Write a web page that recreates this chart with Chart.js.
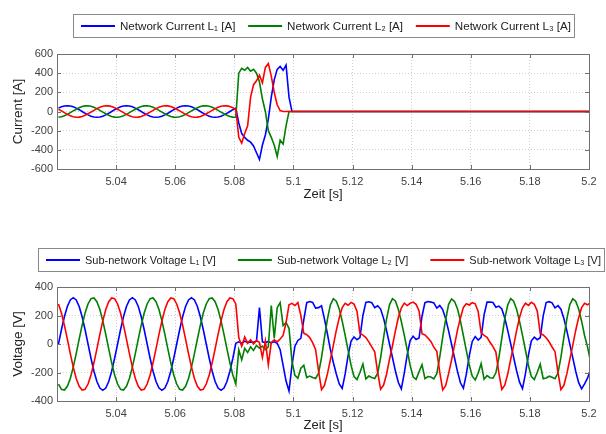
<!DOCTYPE html>
<html>
<head>
<meta charset="utf-8">
<script src="https://cdn.jsdelivr.net/npm/chart.js@4"></script>
<style>
  html, body { margin: 0; padding: 0; background: #fff; }
  canvas { display: block; }
</style>
</head>
<body>
<canvas id="currentChart" width="606" height="217"></canvas>
<canvas id="voltageChart" width="606" height="217"></canvas>
<script>
// sampling of the recorded signals (1 ms grid)
const sampleStart = 5.0205;
const sampleStep = 0.001;

const xTicks = [5.04, 5.06, 5.08, 5.1, 5.12, 5.14, 5.16, 5.18, 5.2];
const currentTicks = [-600, -400, -200, 0, 200, 400, 600];
const voltageTicks = [-400, -200, 0, 200, 400];

const currentNames = ["Network Current L₁ [A]", "Network Current L₂ [A]", "Network Current L₃ [A]"];
const voltageNames = ["Sub-network Voltage L₁ [V]", "Sub-network Voltage L₂ [V]", "Sub-network Voltage L₃ [V]"];

// network currents [A]
const iL1 = [
  35,49,57,60,57,49,35,19,0,-19,-35,-49,-57,-60,-57,-49,-35,-19,0,19,
  35,49,57,60,57,49,35,19,0,-19,-35,-49,-57,-60,-57,-49,-35,-19,0,19,
  35,49,57,60,57,49,35,19,0,-19,-35,-49,-57,-60,-57,-49,-35,-19,0,19,
  35,
  -120,-230,-270,-300,-320,-360,-430,-500,-350,-245,-80,150,330,440,470,430,485,150,0,
  0,0,0,0,0,0,0,0,0,0,0,0,0,0,0,0,0,0,0,0,
  0,0,0,0,0,0,0,0,0,0,0,0,0,0,0,0,0,0,0,0,
  0,0,0,0,0,0,0,0,0,0,0,0,0,0,0,0,0,0,0,0,
  0,0,0,0,0,0,0,0,0,0,0,0,0,0,0,0,0,0,0,0,
  0,0,0,0,0,0,0,0,0,0,0,0,0,0,0,0,0,0,0,0,
  0
];
const iL2 = [
  -60,-55,-45,-30,-12,6,24,40,52,59,60,55,45,30,12,-6,-24,-40,-52,-59,
  -60,-55,-45,-30,-12,6,24,40,52,59,60,55,45,30,12,-6,-24,-40,-52,-59,
  -60,-55,-45,-30,-12,6,24,40,52,59,60,55,45,30,12,-6,-24,-40,-52,-59,
  -60,
  400,450,430,460,420,440,400,310,130,0,-200,-270,-350,-470,-300,-340,-150,0,0,
  0,0,0,0,0,0,0,0,0,0,0,0,0,0,0,0,0,0,0,0,
  0,0,0,0,0,0,0,0,0,0,0,0,0,0,0,0,0,0,0,0,
  0,0,0,0,0,0,0,0,0,0,0,0,0,0,0,0,0,0,0,0,
  0,0,0,0,0,0,0,0,0,0,0,0,0,0,0,0,0,0,0,0,
  0,0,0,0,0,0,0,0,0,0,0,0,0,0,0,0,0,0,0,0,
  0
];
const iL3 = [
  24,6,-12,-30,-45,-55,-60,-59,-52,-40,-24,-6,12,30,45,55,60,59,52,40,
  24,6,-12,-30,-45,-55,-60,-59,-52,-40,-24,-6,12,30,45,55,60,59,52,40,
  24,6,-12,-30,-45,-55,-60,-59,-52,-40,-24,-6,12,30,45,55,60,59,52,40,
  24,
  -270,-330,-230,-150,150,280,320,380,300,460,500,370,200,70,10,0,0,0,0,
  0,0,0,0,0,0,0,0,0,0,0,0,0,0,0,0,0,0,0,0,
  0,0,0,0,0,0,0,0,0,0,0,0,0,0,0,0,0,0,0,0,
  0,0,0,0,0,0,0,0,0,0,0,0,0,0,0,0,0,0,0,0,
  0,0,0,0,0,0,0,0,0,0,0,0,0,0,0,0,0,0,0,0,
  0,0,0,0,0,0,0,0,0,0,0,0,0,0,0,0,0,0,0,0,
  0
];

// sub-network voltages [V]
const uL1 = [
  0,100,191,263,309,325,309,263,191,100,0,-100,-191,-263,-309,-325,-309,-263,-191,-100,
  0,100,191,263,309,325,309,263,191,100,0,-100,-191,-263,-309,-325,-309,-263,-191,-100,
  0,100,191,263,309,325,309,263,191,100,0,-100,-191,-263,-309,-325,-309,-263,-191,-100,
  5,
  15,5,20,10,15,12,20,255,15,10,18,8,15,5,-40,-150,-260,-330,-150,
  -15,25,40,170,290,298,292,252,255,268,175,70,-40,-130,-210,-280,
  -312,-210,-80,20,50,30,45,200,292,296,290,255,268,245,180,95,0,-95,-190,-270,
  -315,-205,-75,25,55,32,42,195,290,298,294,288,252,270,242,178,92,-2,-98,-192,-272,
  -310,-212,-82,18,52,28,46,205,294,295,291,258,266,246,182,96,2,-94,-188,-268,
  -314,-208,-78,22,48,30,44,198,291,297,289,254,269,244,179,94,-1,-96,-191,-271,
  -315,-280,-240,-180
];
const uL2 = [
  -281,-318,-323,-297,-242,-162,-68,34,132,217,281,318,323,297,242,162,68,-34,-132,-217,
  -281,-318,-323,-297,-242,-162,-68,34,132,217,281,318,323,297,242,162,68,-34,-132,-217,
  -281,-318,-323,-297,-242,-162,-68,34,132,217,281,318,323,297,242,162,68,-34,-132,-217,
  -281,
  -40,-110,-30,-60,-20,-45,-10,-30,-15,-40,-20,270,40,255,290,130,150,110,-120,
  -220,-240,-170,-150,-235,-225,-235,-242,-205,-95,45,175,275,
  318,
  300,245,160,60,-45,-150,-228,-250,-200,-140,-245,-225,-235,-242,-205,-95,45,175,275,318,
  302,242,158,62,-42,-152,-230,-248,-195,-145,-243,-228,-232,-245,-208,-92,48,172,278,316,
  298,247,162,58,-47,-148,-226,-252,-205,-138,-247,-222,-237,-240,-202,-97,42,177,273,319,
  301,244,159,61,-44,-151,-229,-249,-198,-142,-244,-238,-226,-234,-243,-204,-94,46,174,276,317,
  300,245,160,60,-20,-120
];
const uL3 = [
  281,217,132,34,-68,-162,-242,-297,-323,-318,-281,-217,-132,-34,68,162,242,297,323,318,
  281,217,132,34,-68,-162,-242,-297,-323,-318,-281,-217,-132,-34,68,162,242,297,323,318,
  281,217,132,34,-68,-162,-242,-297,-323,-318,-281,-217,-132,-34,68,162,242,297,323,318,
  281,
  45,-15,50,5,30,0,25,10,-95,20,-145,10,30,15,35,60,150,275,285,270,290,200,75,65,45,10,-40,-190,
  -320,-290,-210,-110,-10,95,185,255,285,272,292,280,230,75,62,45,15,-20,-55,-200,
  -318,-288,-212,-108,-12,92,188,252,287,270,286,294,278,232,72,64,42,18,-22,-52,-198,
  -322,-292,-208,-112,-8,97,183,257,283,274,290,282,228,78,60,47,12,-18,-57,-202,
  -319,-289,-211,-109,-11,94,186,254,286,271,293,279,231,74,63,44,16,-21,-54,-199,
  -320,-290,-210,-110,-10,95,185,255,285,275,290
];

const sampleTimes = uL1.map((v, i) => +(sampleStart + i * sampleStep).toFixed(4));

const phaseColors = ["#0000ff", "#008000", "#ff0000"];
const FONT = '"Liberation Sans", Arial, Helvetica, sans-serif';
Chart.defaults.font.family = FONT;
Chart.defaults.color = "#333";

// boxed legend above each plot, like the matlab figure
const framedLegend = {
  id: "framedLegend",
  afterDraw(chart, args, opts) {
    const ctx = chart.ctx;
    const b = opts.box;
    ctx.save();
    ctx.fillStyle = "#fff";
    ctx.fillRect(b.left, b.top, b.right - b.left, b.bottom - b.top);
    ctx.strokeStyle = "#8a8a8a";
    ctx.lineWidth = 1;
    ctx.strokeRect(b.left + 0.5, b.top + 0.5, b.right - b.left - 1, b.bottom - b.top - 1);
    ctx.font = opts.fontSize + "px " + FONT;
    ctx.textBaseline = "middle";
    const sets = chart.data.datasets;
    const widths = sets.map((ds) => ctx.measureText(ds.label).width);
    const lineLen = 34, gap = 5, padL = 8, padR = 4;
    const used = widths.reduce((a, w) => a + w + lineLen + gap, 0);
    const spacing = (b.right - b.left - padL - padR - used) / (sets.length - 1);
    const y = (b.top + b.bottom) / 2;
    let x = b.left + padL;
    sets.forEach((ds, i) => {
      ctx.strokeStyle = ds.borderColor;
      ctx.lineWidth = 2;
      ctx.beginPath();
      ctx.moveTo(x, y);
      ctx.lineTo(x + lineLen, y);
      ctx.stroke();
      ctx.fillStyle = "#222";
      ctx.fillText(ds.label, x + lineLen + gap, y + 0.5);
      x += lineLen + gap + widths[i] + spacing;
    });
    ctx.restore();
  },
};

// box round the plot area with small inward ticks
const plotFrame = {
  id: "plotFrame",
  afterDatasetsDraw(chart) {
    const { ctx, chartArea: a, scales } = chart;
    ctx.save();
    ctx.strokeStyle = "#707070";
    ctx.lineWidth = 1;
    ctx.beginPath();
    scales.x.ticks.forEach((t) => {
      const px = Math.round(scales.x.getPixelForValue(t.value)) + 0.5;
      ctx.moveTo(px, a.top); ctx.lineTo(px, a.top + 4);
      ctx.moveTo(px, a.bottom); ctx.lineTo(px, a.bottom - 4);
    });
    scales.y.ticks.forEach((t) => {
      const py = Math.round(scales.y.getPixelForValue(t.value)) + 0.5;
      ctx.moveTo(a.left, py); ctx.lineTo(a.left + 4, py);
      ctx.moveTo(a.right, py); ctx.lineTo(a.right - 4, py);
    });
    ctx.stroke();
    ctx.strokeRect(Math.round(a.left) + 0.5, Math.round(a.top) + 0.5, Math.round(a.width), Math.round(a.height));
    ctx.restore();
  },
};

function buildChart(id, series, names, yTicks, yTitle, geom) {
  const el = document.getElementById(id);
  if (!el) return;
  return new Chart(el, {
    type: "line",
    data: {
      labels: sampleTimes,
      datasets: series.map((vals, k) => ({
        label: names[k],
        data: vals,
        borderColor: phaseColors[k],
        borderWidth: 1.6,
        pointRadius: 0,
        order: 3 - k,
      })),
    },
    options: {
      responsive: false,
      animation: false,
      events: [],
      layout: { padding: { top: geom.top, right: 17, left: 0, bottom: 0 } },
      plugins: {
        legend: { display: false },
        tooltip: { enabled: false },
        framedLegend: { box: geom.legend, fontSize: geom.legendFont },
      },
      scales: {
        x: {
          type: "linear",
          min: 5.02,
          max: 5.2,
          afterBuildTicks: (s) => { s.ticks = xTicks.map((v) => ({ value: v })); },
          afterFit: (s) => { s.height = geom.xHeight; },
          ticks: { padding: 6, color: "#404040", font: { size: 11 }, maxRotation: 0, autoSkip: false, callback: (v) => String(v) },
          grid: { color: "#cfcfcf", drawTicks: false },
          border: { display: false, dash: [1, 2] },
          title: { display: true, text: "Zeit [s]", color: "#222", font: { size: 13 }, padding: { top: 0, bottom: geom.titlePad } },
        },
        y: {
          min: yTicks[0],
          max: yTicks[yTicks.length - 1],
          afterBuildTicks: (s) => { s.ticks = yTicks.map((v) => ({ value: v })); },
          afterFit: (s) => { s.width = 57; },
          ticks: { padding: 4, color: "#404040", font: { size: 11 }, callback: (v) => String(v) },
          grid: { color: "#cfcfcf", drawTicks: false },
          border: { display: false, dash: [1, 2] },
          title: { display: true, text: yTitle, color: "#222", font: { size: 13.5 }, padding: { top: 10, bottom: 0 } },
        },
      },
    },
    plugins: [framedLegend, plotFrame],
  });
}

buildChart("currentChart", [iL1, iL2, iL3], currentNames, currentTicks, "Current [A]", {
  top: 54, xHeight: 48, titlePad: 15, legendFont: 11.6,
  legend: { left: 73, top: 14, right: 575, bottom: 38 },
});
buildChart("voltageChart", [uL1, uL2, uL3], voltageNames, voltageTicks, "Voltage [V]", {
  top: 70, xHeight: 33, titlePad: 1, legendFont: 11,
  legend: { left: 38, top: 31, right: 605, bottom: 55 },
});
</script>
</body>
</html>
